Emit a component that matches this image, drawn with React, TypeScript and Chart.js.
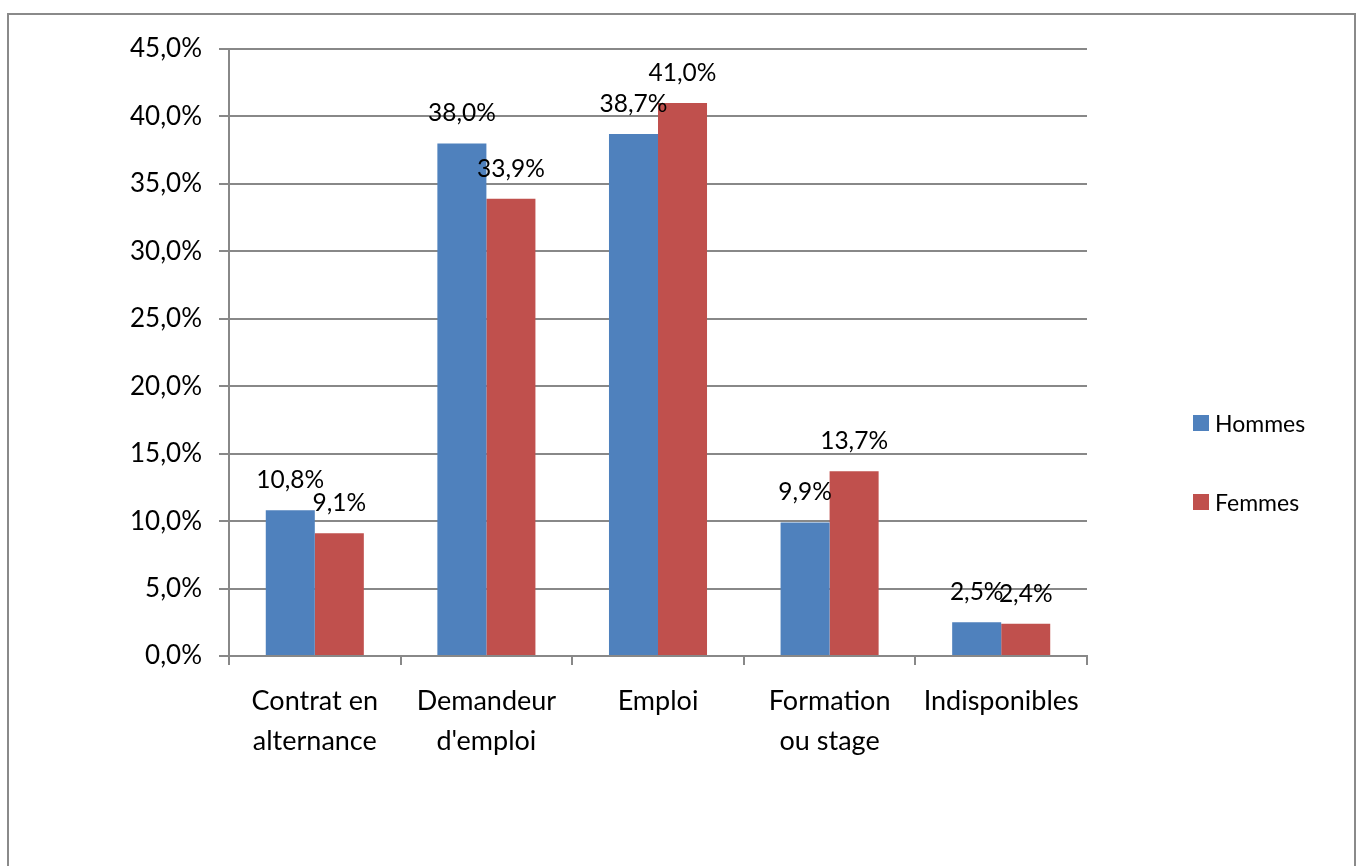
import React, { useEffect, useRef } from "react";
import { Chart, registerables } from "chart.js";

Chart.register(...registerables);

const categories: (string | string[])[] = [
  ["Contrat en", "alternance"],
  ["Demandeur", "d'emploi"],
  "Emploi",
  ["Formation", "ou stage"],
  "Indisponibles",
];
const hommes = [10.8, 38.0, 38.7, 9.9, 2.5];
const femmes = [9.1, 33.9, 41.0, 13.7, 2.4];
const seriesNames = ["Hommes", "Femmes"];
const seriesColors = ["#4F81BD", "#C0504D"];
const yMin = 0;
const yMax = 45;
const yStep = 5;

const FONT = "Lato, 'Open Sans', sans-serif";

const fmt = (v: number) => v.toFixed(1).replace(".", ",") + "%";

const dataLabels = {
  id: "dataLabels",
  afterDatasetsDraw(chart: any) {
    const ctx = chart.ctx;
    ctx.save();
    ctx.font = `24.5px ${FONT}`;
    ctx.fillStyle = "#000";
    ctx.textAlign = "center";
    ctx.textBaseline = "alphabetic";
    chart.data.datasets.forEach((ds: any, i: number) => {
      const meta = chart.getDatasetMeta(i);
      meta.data.forEach((el: any, j: number) => {
        ctx.fillText(fmt(ds.data[j]), el.x, el.y - 22);
      });
    });
    ctx.restore();
  },
};

export default function App() {
  const ref = useRef<HTMLCanvasElement | null>(null);
  useEffect(() => {
    if (!ref.current) return;
    const chart = new Chart(ref.current, {
      type: "bar",
      data: {
        labels: categories,
        datasets: [
          {
            label: seriesNames[0],
            data: hommes,
            backgroundColor: seriesColors[0],
            categoryPercentage: 0.5714,
            barPercentage: 1,
          },
          {
            label: seriesNames[1],
            data: femmes,
            backgroundColor: seriesColors[1],
            categoryPercentage: 0.5714,
            barPercentage: 1,
          },
        ],
      },
      options: {
        responsive: false,
        animation: false,
        layout: { padding: { top: 49, left: 0, right: 269, bottom: 0 } },
        plugins: {
          legend: { display: false },
          tooltip: { enabled: false },
        },
        scales: {
          x: {
            afterFit: (s: any) => {
              s.height = 210;
            },
            grid: {
              drawOnChartArea: false,
              drawTicks: true,
              tickLength: 9,
              color: "#888",
              lineWidth: 2,
              offset: true,
            },
            border: { color: "#888", width: 2 },
            ticks: {
              color: "#000",
              font: { family: FONT, size: 27, lineHeight: 1.5 },
              padding: 16,
              maxRotation: 0,
              autoSkip: false,
            },
          },
          y: {
            min: yMin,
            max: yMax,
            afterFit: (s: any) => {
              s.width = 229;
            },
            grid: {
              color: "#888",
              lineWidth: 2,
              tickLength: 10,
            },
            border: { color: "#888", width: 2 },
            ticks: {
              stepSize: yStep,
              color: "#000",
              font: { family: FONT, size: 26 },
              padding: 17,
              callback: (v: any) => fmt(Number(v)),
            },
          },
        },
      },
      plugins: [dataLabels],
    });
    return () => chart.destroy();
  }, []);

  return (
    <div style={{ position: "absolute", left: 0, top: 0, width: 1356, height: 866, overflow: "hidden", background: "#fff" }}>
      <div
        style={{
          position: "absolute",
          left: 7,
          top: 13,
          width: 1349,
          height: 900,
          boxSizing: "border-box",
          border: "2px solid #8a8a8a",
        }}
      />
      <canvas ref={ref} width={1356} height={866} style={{ position: "absolute", left: 0, top: 0 }} />
      <div style={{ position: "absolute", left: 1193, top: 415, fontFamily: FONT, fontSize: 23, color: "#000" }}>
        {seriesNames.map((n, i) => (
          <div key={n} style={{ display: "flex", alignItems: "center", height: 16, marginBottom: i === 0 ? 63 : 0 }}>
            <span style={{ display: "inline-block", width: 16, height: 16, background: seriesColors[i], marginRight: 6 }} />
            <span style={{ lineHeight: "16px" }}>{n}</span>
          </div>
        ))}
      </div>
    </div>
  );
}
